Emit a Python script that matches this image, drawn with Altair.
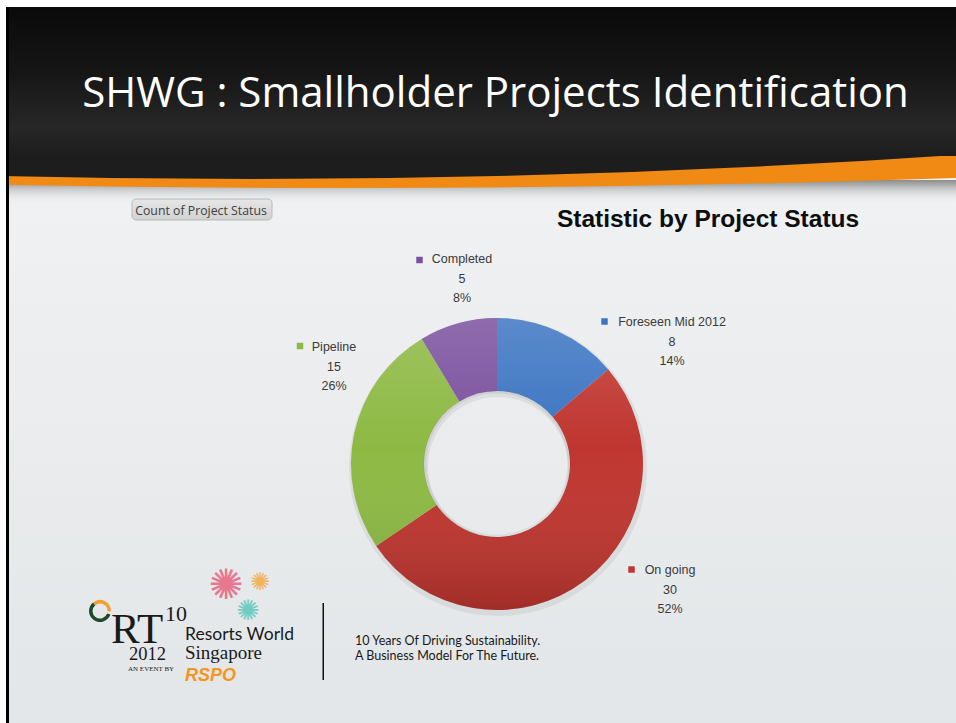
import altair as alt
import pandas as pd

# ---------------- data ----------------
statuses = ["Foreseen Mid 2012", "On going", "Pipeline", "Completed"]
counts = [8, 30, 15, 5]
percents = ["14%", "52%", "26%", "8%"]
colors = ["#3B74C2", "#C0352F", "#8DB943", "#7A509E"]

slide_title = "SHWG : Smallholder Projects Identification"
chart_title = "Statistic by Project Status"
field_button = "Count of Project Status"
tagline = ["10 Years Of Driving Sustainability.", "A Business Model For The Future."]

# ---------------- layout (pixels) ----------------
W, H = 956, 723
CX, CY = 497, 464
R_OUT, R_IN = 146, 73
label_x = [672, 670, 334, 462]
label_y = [326, 574, 351, 263]
marker_x = [604.5, 631.5, 300, 419.5]
marker_y = [321.5, 569.5, 346, 260]
LINE = 19.5
LABEL_FONT = "Liberation Sans"
LABEL_COLOR = "#3a3a3a"

df = pd.DataFrame({
    "status": statuses,
    "count": counts,
    "pct": percents,
    "order": list(range(len(statuses))),
    "lx": label_x,
    "ly": label_y,
    "mx": marker_x,
    "my": marker_y,
})
df["ly2"] = df["ly"] + LINE
df["ly3"] = df["ly"] + 2 * LINE

base = alt.Chart(pd.DataFrame({"k": [0]}))


def grad(stops, vertical=True):
    return alt.Gradient(
        gradient="linear",
        stops=[alt.GradientStop(color=c, offset=o) for o, c in stops],
        x1=0, y1=0, x2=0 if vertical else 1, y2=1 if vertical else 0,
    )


def rect(x, x2, y, y2, fill, **kw):
    return base.mark_rect(fill=fill, **kw).encode(
        x=alt.value(x), x2=alt.value(x2), y=alt.value(y), y2=alt.value(y2)
    )


def disc(cx, cy, r_out, fill, r_in=0, t0=0.0, t1=6.2832, **kw):
    return base.mark_arc(
        outerRadius=r_out, innerRadius=r_in, theta=t0, theta2=t1, fill=fill, **kw
    ).encode(x=alt.value(cx), y=alt.value(cy))


def text(s, x, y, size, color, font, weight="normal", style="normal", align="center", **kw):
    return base.mark_text(
        text=s, fontSize=size, font=font, fontWeight=weight, fontStyle=style,
        color=color, align=align, baseline="alphabetic", **kw
    ).encode(x=alt.value(x), y=alt.value(y))


layers = []

# slide body
layers.append(rect(9, W, 7, H, grad([(0, "#f4f5f6"), (1, "#e3e6e8")])))
# shadow under the orange swoosh
layers.append(rect(9, W, 180, 204, grad([(0, "#8c8c8c"), (0.35, "#c4c5c6"), (1, "rgba(240,241,242,0)")])))
# orange swoosh (huge disc gives the curved edge)
R_OR = 18362
layers.append(disc(350, 188 - R_OR, R_OR, "#F08A14"))
# black header curved bottom
R_BK = 10383
layers.append(disc(250, 179 - R_BK, R_BK, "#1d1d1d"))
# header gradient
layers.append(rect(9, W, 7, 156, grad([(0, "#0a0a0a"), (0.45, "#161616"), (0.8, "#272727"), (1, "#1d1d1d")])))
# white page margins + black border line
layers.append(rect(0, W, 0, 7, "#ffffff"))
layers.append(rect(0, 6, 0, H, "#ffffff"))
layers.append(rect(6, 9, 7, H, "#000000"))

# slide title
layers.append(text(slide_title, 495.5, 107, 42, "#ffffff", "Open Sans"))

# field button
layers.append(base.mark_rect(
    fill=grad([(0, "#e6e6e6"), (1, "#d2d2d2")]), stroke="#b9b9b9", strokeWidth=1, cornerRadius=4
).encode(x=alt.value(132), x2=alt.value(272), y=alt.value(199), y2=alt.value(220)))
layers.append(text(field_button, 201, 214.5, 12.3, "#404040", "Open Sans"))

# chart title
layers.append(text(chart_title, 708, 227, 24.5, "#0d0d0d", "Liberation Sans", weight="bold"))

# donut soft shadow
layers.append(disc(CX + 1, CY + 3, R_OUT + 3, "#9a9a9a", r_in=R_IN - 3, opacity=0.18))

# donut
donut = alt.Chart(df).mark_arc(innerRadius=R_IN, outerRadius=R_OUT).encode(
    theta=alt.Theta("count:Q", stack=True),
    color=alt.Color("status:N", scale=alt.Scale(domain=statuses, range=colors), legend=None),
    order=alt.Order("order:Q"),
    x=alt.value(CX),
    y=alt.value(CY),
)
layers.append(donut)
# shading overlay to mimic the gradient fill
layers.append(disc(CX, CY, R_OUT, grad([(0, "rgba(255,255,255,0.16)"), (0.45, "rgba(255,255,255,0)"), (1, "rgba(0,0,0,0.16)")]), r_in=R_IN))
# inner hole rim shadow
layers.append(disc(CX, CY, R_IN + 0.5, "#000000", r_in=R_IN - 2.5, opacity=0.06))

# labels
markers = alt.Chart(df).mark_square(size=42, opacity=1).encode(
    x=alt.X("mx:Q", scale=None, axis=None),
    y=alt.Y("my:Q", scale=None, axis=None),
    color=alt.Color("status:N", scale=alt.Scale(domain=statuses, range=colors), legend=None),
)
layers.append(markers)
for field, ycol in [("status", "ly"), ("count", "ly2"), ("pct", "ly3")]:
    layers.append(
        alt.Chart(df).mark_text(
            font=LABEL_FONT, fontSize=12.5, color=LABEL_COLOR, align="center", baseline="alphabetic"
        ).encode(
            x=alt.X("lx:Q", scale=None, axis=None),
            y=alt.Y(f"{ycol}:Q", scale=None, axis=None),
            text=alt.Text(f"{field}:N"),
        )
    )

# ---------------- logo block ----------------
layers.append(disc(100, 611, 11, "#1f4a2a", r_in=7.5, t0=1.9, t1=5.6))
layers.append(disc(100, 611, 11, "#F4A030", r_in=7.5, t0=5.6, t1=7.9))
layers.append(text("RT", 111, 643, 43, "#1a1a1a", "Liberation Serif", align="left"))
layers.append(text("10", 165, 621, 22, "#1a1a1a", "Liberation Serif", align="left"))
layers.append(text("Resorts World", 185, 640, 17.5, "#1a1a1a", "Lato", align="left"))
layers.append(text("2012", 129, 660, 18.5, "#1a1a1a", "Liberation Serif", align="left"))
layers.append(text("Singapore", 185, 659, 19, "#1a1a1a", "Liberation Serif", align="left"))
layers.append(text("AN EVENT BY", 128, 671, 7, "#1a1a1a", "Liberation Serif", align="left"))
layers.append(text("RSPO", 185, 681, 18, "#F7941D", "Liberation Sans", weight="bold", style="italic", align="left"))
# fireworks
layers.append(text("✺", 226, 599, 42, "#E85C7A", "DejaVu Sans", opacity=0.8))
layers.append(text("✺", 260, 590, 24, "#F2A93B", "DejaVu Sans", opacity=0.8))
layers.append(text("✺", 248, 620, 28, "#53C6B8", "DejaVu Sans", opacity=0.8))
# divider
layers.append(rect(322.5, 324, 603, 680, "#111111"))
layers.append(text(tagline[0], 355, 645, 12.5, "#1a1a1a", "Lato", align="left"))
layers.append(text(tagline[1], 355, 660, 12.5, "#1a1a1a", "Lato", align="left"))

chart = alt.layer(*layers).properties(
    width=W, height=H, padding=0,
    autosize=alt.AutoSizeParams(type="none"),
    background="#ffffff",
).configure_view(stroke=None)

chart.save("out.html", embed_options={"renderer": "svg", "actions": False})
